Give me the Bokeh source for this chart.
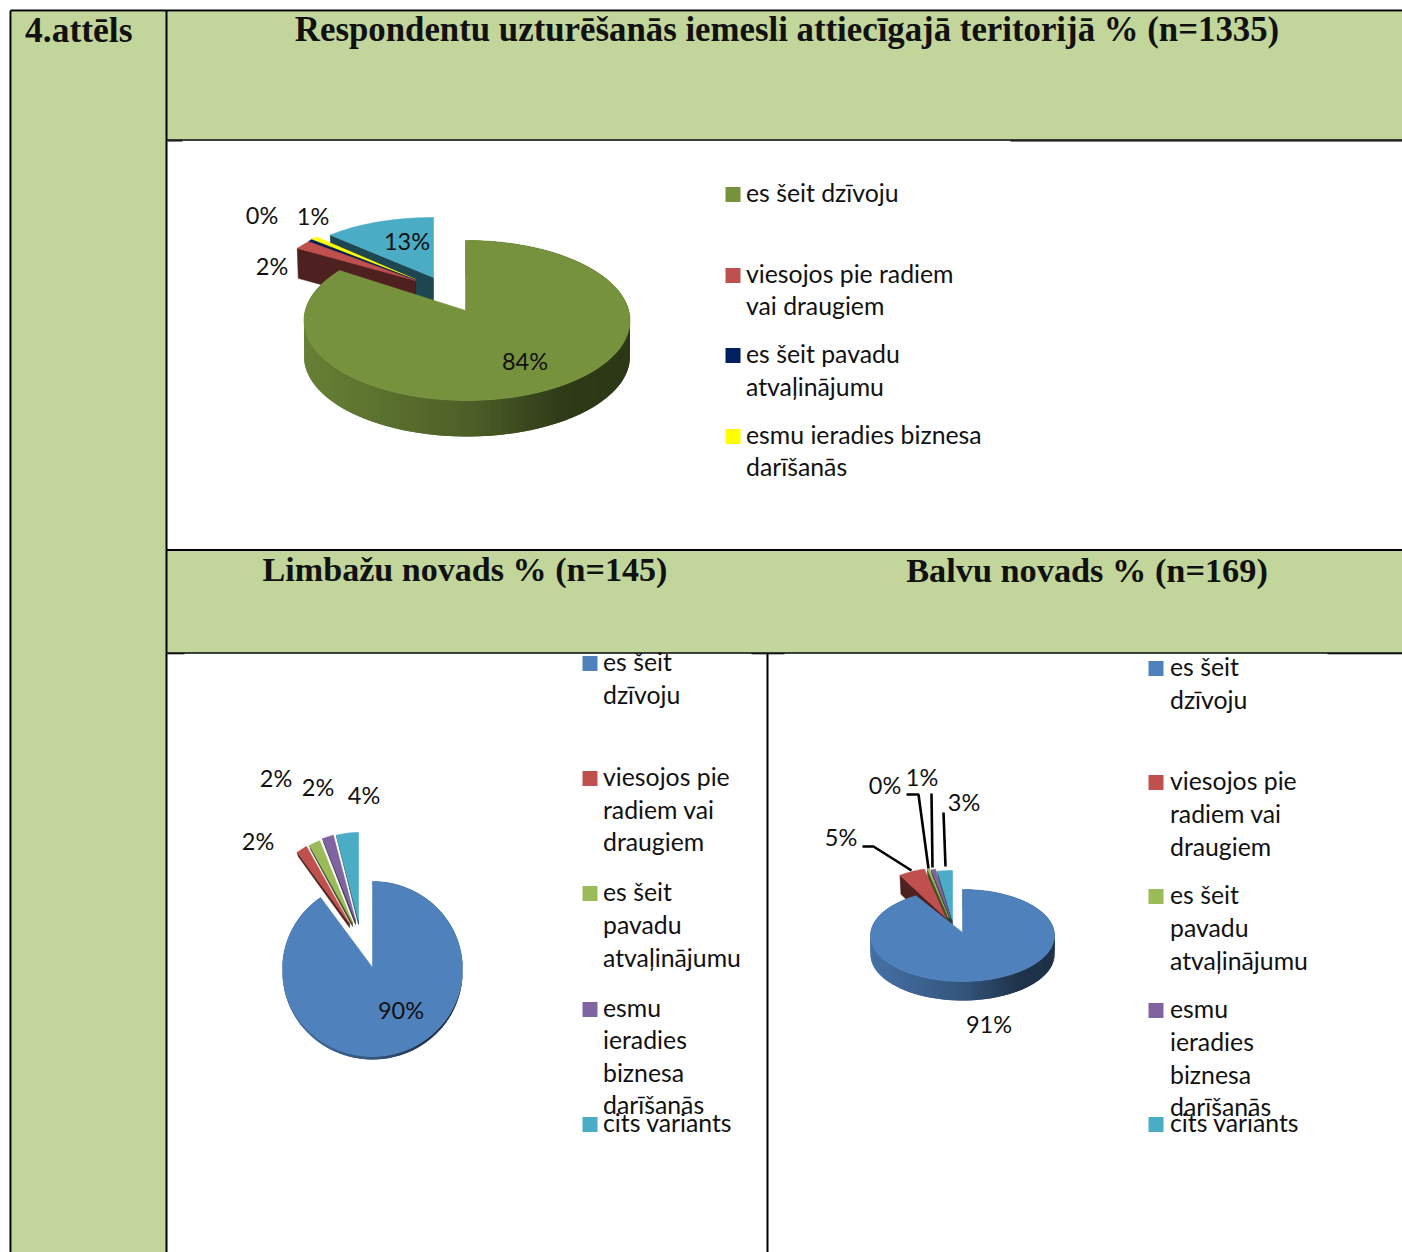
import math
from bokeh.plotting import figure
from bokeh.core.properties import value
from bokeh.embed import file_html
from bokeh.resources import INLINE

# ---------- data ----------
FIGURE_LABEL = "4.attēls"
TITLE_TOP = "Respondentu uzturēšanās iemesli attiecīgajā teritorijā % (n=1335)"
TITLE_LIMBAZI = "Limbažu novads % (n=145)"
TITLE_BALVI = "Balvu novads % (n=169)"

VALUES_TOP = [84, 2.2, 0.5, 0.8, 12.5]
LABELS_TOP = ["84%", "2%", "0%", "1%", "13%"]
COLORS_TOP = ["#76923c", "#c0504d", "#002060", "#ffff00", "#4bacc6"]

VALUES_LIMBAZI = [90, 2, 2, 2, 4]
LABELS_LIMBAZI = ["90%", "2%", "2%", "2%", "4%"]
VALUES_BALVI = [91, 5, 0.4, 0.8, 2.8]
LABELS_BALVI = ["91%", "5%", "0%", "1%", "3%"]
COLORS_OFFICE = ["#4f81bd", "#c0504d", "#9bbb59", "#8064a2", "#4bacc6"]

LEGEND_TOP = [["es šeit dzīvoju"],
              ["viesojos pie radiem", "vai draugiem"],
              ["es šeit pavadu", "atvaļinājumu"],
              ["esmu ieradies biznesa", "darīšanās"]]
LEGEND_BOTTOM = [["es šeit", "dzīvoju"],
                 ["viesojos pie", "radiem vai", "draugiem"],
                 ["es šeit", "pavadu", "atvaļinājumu"],
                 ["esmu", "ieradies", "biznesa", "darīšanās"],
                 ["cits variants"]]

# ---------- layout ----------
W, H = 1402, 1252
HEAD_BG = "#c2d69b"
SERIF = "Liberation Serif"
SANS = "Lato"
TXT = 23.5
LEG = 24.8

p = figure(width=W, height=H, x_range=(0, 1402), y_range=(1252, 0),
           x_axis_location=None, y_axis_location=None, toolbar_location=None,
           output_backend="svg", min_border=0, outline_line_color=None,
           background_fill_color="white", border_fill_color="white")
p.xgrid.visible = False
p.ygrid.visible = False


def txt(x, y, s, size=TXT, font=SANS, style="normal", align="left"):
    p.text([x - 0.5], [y - 1.6], text=[s], text_font=value(font), text_font_size=value(f"{size}px"),
           text_font_style=style, text_align=align, text_baseline="middle", text_color="#111111")


def scale(col, f):
    r, g, b = (int(col[i:i + 2], 16) for i in (1, 3, 5))
    return "#%02x%02x%02x" % (int(r * f), int(g * f), int(b * f))


def rim(apex, center, rx, ry, k, th):
    dx, dy = math.sin(th), -k * math.cos(th)
    ox, oy = apex[0] - center[0], apex[1] - center[1]
    a = dx * dx / rx ** 2 + dy * dy / ry ** 2
    b = 2 * (ox * dx / rx ** 2 + oy * dy / ry ** 2)
    c = ox * ox / rx ** 2 + oy * oy / ry ** 2 - 1
    t = (-b + math.sqrt(b * b - 4 * a * c)) / (2 * a)
    return apex[0] + t * dx, apex[1] + t * dy


def poly(xs, ys, col, lw=0.6):
    p.patch(xs, ys, fill_color=col, line_color=col if lw else None, line_width=lw or 1)


def shade(t):
    stops = [(0, .88), (.5, .66), (.8, .40), (1, .38)]
    for (a, fa), (b, fb) in zip(stops, stops[1:]):
        if t <= b:
            return fa + (fb - fa) * (t - a) / (b - a)
    return .38


def pie(values, colors, main, exploded, apexes):
    total = sum(values)
    edges = [0]
    for v in values:
        edges.append(edges[-1] + v / total * 2 * math.pi)
    # exploded slices: last first
    for i in range(len(values) - 1, 0, -1):
        ap = apexes[i - 1]
        a0, a1 = edges[i], edges[i + 1]
        n = 24
        erx = exploded["rx"][i - 1]
        pts = [rim(ap, ap, erx, exploded["ry"], exploded["ry"] / erx,
                   a0 + (a1 - a0) * j / n) for j in range(n + 1)]
        d = exploded["depth"]
        dark = scale(colors[i], .41)
        q = pts[0]
        poly([ap[0], q[0], q[0] + 1, ap[0]], [ap[1], q[1], q[1] + d, ap[1] + d], dark)
        poly([ap[0]] + [a for a, _ in pts], [ap[1]] + [b for _, b in pts], colors[i])
    # main slice: gradient wall, then the top face
    ap, ce, rx, ry, k, d = main["apex"], main["center"], main["rx"], main["ry"], main["k"], main["depth"]
    a0, a1 = edges[0], edges[1]
    n = 160
    pts = [rim(ap, ce, rx, ry, k, a0 + (a1 - a0) * j / n) for j in range(n + 1)]
    left, right = ce[0] - rx, ce[0] + rx
    for j in range(n):
        x0, y0 = pts[j]
        x1, y1 = pts[min(j + 2, n)]
        col = scale(colors[0], shade(((x0 + pts[j + 1][0]) / 2 - left) / (right - left)))
        poly([x0, x1, x1, x0], [y0, y1, y1 + d, y0 + d], col, 0)
    poly([ap[0]] + [a for a, _ in pts], [ap[1]] + [b for _, b in pts], colors[0])


# ---------- table ----------
p.quad(left=[11], right=[166], top=[11], bottom=[1252], fill_color=HEAD_BG, line_color=None)
p.quad(left=[166, 166], right=[1402, 1402], top=[11, 550], bottom=[139, 652],
       fill_color=HEAD_BG, line_color=None)
p.segment([10, 10, 166, 166, 166, 767], [10, 10, 139.5, 549.5, 652.5, 653],
          [1402, 10, 1402, 1402, 1402, 767], [10, 1252, 139.5, 549.5, 652.5, 1252],
          line_color="black", line_width=[2, 2, 1.6, 2, 1.6, 2])
p.segment([166], [10], [166], [1252], line_color="black", line_width=2)
p.segment([1010, 167, 1327, 751, 167], [140.5, 140.5, 653.3, 653.3, 653.3],
          [1402, 182, 1402, 784, 184], [140.5, 140.5, 653.3, 653.3, 653.3],
          line_color="black", line_width=1)

txt(25, 31, FIGURE_LABEL, 35.5, SERIF, "bold")
txt(787, 31, TITLE_TOP, 34.8, SERIF, "bold", "center")
txt(465, 571, TITLE_LIMBAZI, 34.1, SERIF, "bold", "center")
txt(1087, 571, TITLE_BALVI, 34.3, SERIF, "bold", "center")

# ---------- pies ----------
pie(VALUES_TOP, COLORS_TOP,
    dict(apex=(465, 310), center=(466.5, 320), rx=163, ry=80, k=.5, depth=36),
    dict(rx=[140, 140, 140, 146], ry=60, depth=30),
    [(415, 280), (415, 279.5), (415, 279), (433, 277)])
pie(VALUES_LIMBAZI, COLORS_OFFICE,
    dict(apex=(372, 967), center=(372, 968.5), rx=90, ry=87.5, k=.98, depth=3),
    dict(rx=[89, 89, 89, 89], ry=88, depth=4),
    [(349, 923), (352, 922), (355, 920), (358, 920)])
pie(VALUES_BALVI, COLORS_OFFICE,
    dict(apex=(962, 932), center=(962, 935), rx=92, ry=46, k=.5, depth=19),
    dict(rx=[85, 85, 85, 85], ry=50, depth=19),
    [(945, 917), (948, 917), (950, 918), (952, 920)])

# leader lines of the Balvi pie
for xs, ys in [([862, 873, 911], [846, 846, 870]),
               ([906, 918, 928], [794, 794, 868]),
               ([931, 932], [793, 867]),
               ([943, 945], [812, 866])]:
    p.line(xs, ys, line_color="black", line_width=2.6)

# ---------- data labels ----------
for lab, (x, y) in zip(LABELS_TOP, [(525, 362), (272, 267), (262, 216), (313, 217), (407, 242)]):
    txt(x, y, lab, align="center")
for lab, (x, y) in zip(LABELS_LIMBAZI, [(401, 1011), (258, 842), (276, 779), (318, 788), (364, 796)]):
    txt(x, y, lab, align="center")
for lab, (x, y) in zip(LABELS_BALVI, [(989, 1025), (841, 838), (885, 786), (922, 778), (964, 803)]):
    txt(x, y, lab, align="center")


# ---------- legends ----------
def legend(entries, colors, x_sq, x_txt, rows):
    for lines, col, ys in zip(entries, colors, rows):
        p.quad(left=[x_sq], right=[x_sq + 15], top=[ys[0] - 7.5], bottom=[ys[0] + 7.5],
               fill_color=col, line_color=None)
        for s, y in zip(lines, ys):
            txt(x_txt, y, s, LEG)


legend(LEGEND_TOP, COLORS_TOP, 725, 746,
       [[194], [275, 307], [355, 388], [436, 468]])
legend(LEGEND_BOTTOM, COLORS_OFFICE, 582, 603,
       [[663, 696], [778, 811, 843], [893, 926, 959], [1009, 1041, 1074, 1106], [1124]])
legend(LEGEND_BOTTOM, COLORS_OFFICE, 1148, 1170,
       [[668, 701], [782, 815, 848], [896, 929, 962], [1010, 1043, 1076, 1108], [1124]])

open("out.html", "w").write(file_html(p, INLINE))
